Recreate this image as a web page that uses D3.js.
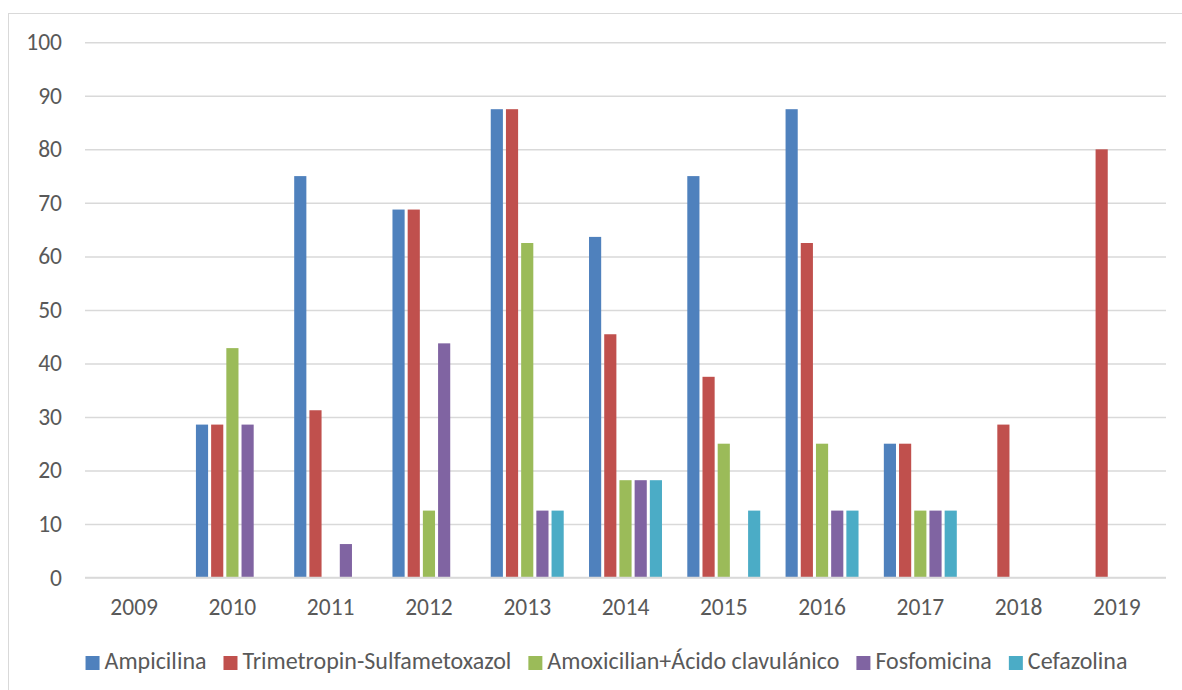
<!DOCTYPE html>
<html>
<head>
<meta charset="utf-8">
<script src="https://cdn.jsdelivr.net/npm/d3@7"></script>
<style>
  html, body { margin: 0; padding: 0; background: #fff; }
  svg { display: block; }
  text { font-family: Carlito, Calibri, Lato, sans-serif; fill: #595959; }
</style>
</head>
<body>
<svg id="chart" width="1182" height="690"></svg>
<script>
const years = ["2009","2010","2011","2012","2013","2014","2015","2016","2017","2018","2019"];
const seriesNames = ["Ampicilina","Trimetropin-Sulfametoxazol","Amoxicilian+Ácido clavulánico","Fosfomicina","Cefazolina"];
const seriesColors = ["#4F81BD","#C0504D","#9BBB59","#8064A2","#4BACC6"];
const ampicilina   = [0, 28.57, 75, 68.75, 87.5, 63.64, 75, 87.5, 25, 0, 0];
const trimetropin  = [0, 28.57, 31.25, 68.75, 87.5, 45.45, 37.5, 62.5, 25, 28.57, 80];
const amoxicilian  = [0, 42.86, 0, 12.5, 62.5, 18.18, 25, 25, 12.5, 0, 0];
const fosfomicina  = [0, 28.57, 6.25, 43.75, 12.5, 18.18, 0, 12.5, 12.5, 0, 0];
const cefazolina   = [0, 0, 0, 0, 12.5, 18.18, 12.5, 12.5, 12.5, 0, 0];
const yTicks = [0,10,20,30,40,50,60,70,80,90,100];

const seriesValues = [ampicilina, trimetropin, amoxicilian, fosfomicina, cefazolina];

const svg = d3.select("#chart");
const FS = 23.5;
const LFS = 24;
const FONT = "Carlito, Calibri, Lato, sans-serif";

// outer chart border
svg.append("rect").attr("x", 8.5).attr("y", 13.5).attr("width", 1200).attr("height", 700)
  .attr("fill", "none").attr("stroke", "#d9d9d9").attr("stroke-width", 1);

const x0 = 85, x1 = 1166, yTop = 42.3, yBot = 577.5;

const x = d3.scaleBand().domain(years).range([x0, x1]).paddingInner(0.2266).paddingOuter(0.1133);
const xs = d3.scaleBand().domain(d3.range(seriesNames.length)).range([0, x.bandwidth()]).paddingInner(0.2).paddingOuter(0.1);
const y = d3.scaleLinear().domain([0, 100]).range([yBot, yTop]);

// gridlines + y labels
const yAxis = d3.axisLeft(y).tickValues(yTicks).tickSize(-(x1 - x0)).tickPadding(23).tickFormat(d3.format("d"));
const gy = svg.append("g").attr("transform", `translate(${x0},0)`).call(yAxis);
gy.select(".domain").remove();
gy.selectAll(".tick line").attr("stroke", "#d9d9d9").attr("stroke-width", 1.5);
gy.selectAll(".tick text").attr("font-size", FS).attr("fill", "#595959").style("font-family", FONT);

// bars
const rows = [];
seriesValues.forEach((vals, si) => {
  vals.forEach((v, yi) => { if (v > 0) rows.push({ s: si, year: years[yi], v }); });
});
svg.append("g").selectAll("rect").data(rows).join("rect")
  .attr("x", d => x(d.year) + xs(d.s))
  .attr("width", xs.bandwidth())
  .attr("y", d => y(d.v))
  .attr("height", d => y(0) - y(d.v))
  .attr("fill", d => seriesColors[d.s]);

// baseline
svg.append("line").attr("x1", x0).attr("x2", x1).attr("y1", y(0)).attr("y2", y(0))
  .attr("stroke", "#d9d9d9").attr("stroke-width", 1.5);

// x axis labels
const xAxis = d3.axisBottom(x).tickSize(0).tickPadding(21);
const gx = svg.append("g").attr("transform", `translate(0,${yBot})`).call(xAxis);
gx.select(".domain").remove();
gx.selectAll(".tick text").attr("font-size", FS).attr("fill", "#595959").style("font-family", FONT);

// legend
const leg = svg.append("g");
let cx = 0;
seriesNames.forEach((name, i) => {
  const g = leg.append("g");
  g.append("rect").attr("x", cx).attr("y", -13).attr("width", 14).attr("height", 14).attr("fill", seriesColors[i]);
  const t = g.append("text").attr("x", cx + 19).attr("y", 0).attr("font-size", LFS).text(name);
  const w = t.node().getComputedTextLength();
  cx += 19 + w + 17;
});
const total = cx - 17;
leg.attr("transform", `translate(${606.5 - total / 2}, 669)`);
</script>
</body>
</html>
